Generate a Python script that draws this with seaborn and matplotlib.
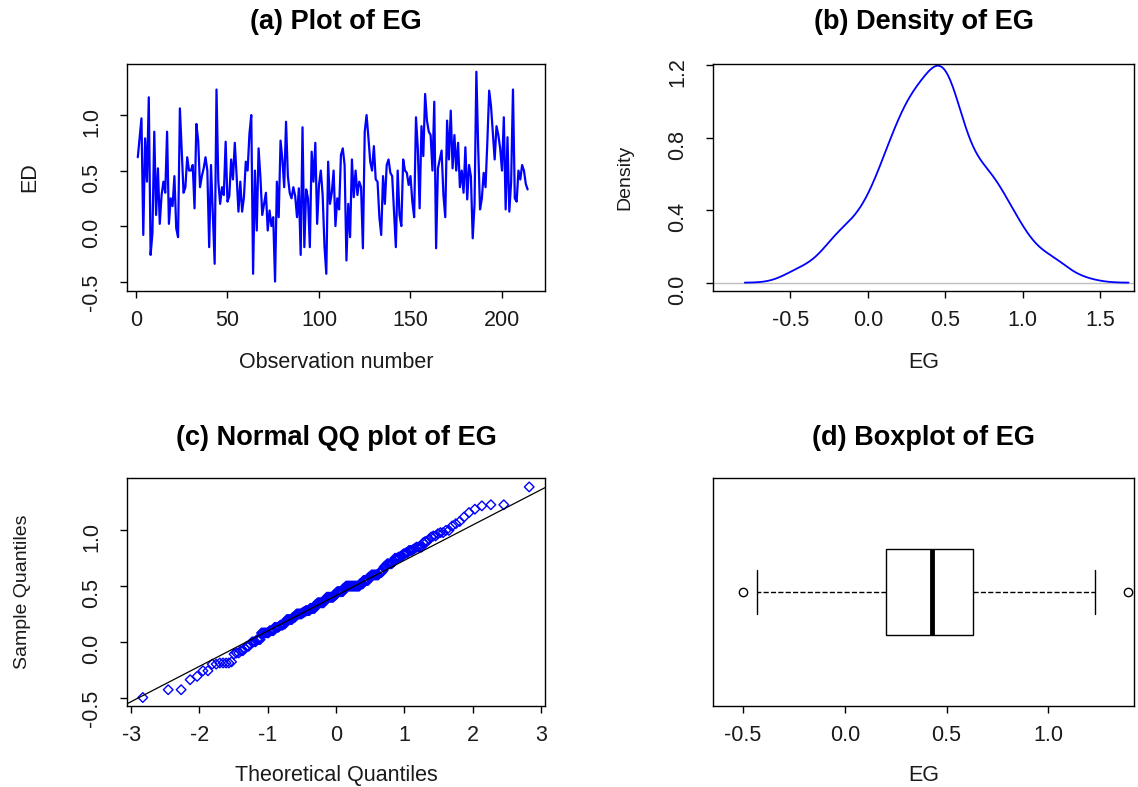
import numpy as np
import pandas as pd
import matplotlib
matplotlib.use("Agg")
import matplotlib.pyplot as plt
import seaborn as sns
from statistics import NormalDist

# ---- data ----
eg_values = [
    0.62, 0.79, 0.97, -0.08, 0.79, 0.40, 1.16, -0.26, -0.06, 0.85,
    0.10, 0.52, 0.02, 0.28, 0.40, 0.30, 0.85, 0.02, 0.25, 0.18,
    0.45, -0.02, -0.10, 1.06, 0.68, 0.30, 0.35, 0.62, 0.50, 0.50,
    0.55, 0.16, 0.92, 0.77, 0.35, 0.45, 0.52, 0.62, 0.50, -0.19,
    0.55, 0.10, -0.34, 1.23, 0.40, 0.20, 0.35, 0.28, 0.76, 0.22,
    0.27, 0.60, 0.42, 0.75, 0.45, 0.13, 0.40, 0.13, 0.26, 0.58,
    0.50, 0.83, 1.00, -0.43, 0.50, -0.04, 0.70, 0.44, 0.10, 0.20,
    0.30, -0.04, 0.14, 0.00, 0.08, -0.50, 0.40, 0.08, 0.77, 0.60,
    0.35, 0.94, 0.45, 0.30, 0.25, 0.35, 0.27, 0.08, 0.34, -0.26,
    0.89, -0.19, 0.33, 0.25, -0.19, 0.67, 0.40, 0.75, 0.02, 0.37,
    0.50, 0.28, -0.18, -0.43, 0.58, 0.20, 0.30, 0.50, 0.00, 0.25,
    0.15, 0.64, 0.70, 0.55, -0.31, 0.20, -0.10, 0.60, 0.26, 0.50,
    0.28, 0.40, 0.35, -0.20, 0.85, 1.00, 0.80, 0.58, 0.50, 0.72,
    0.42, 0.40, 0.08, -0.08, 0.45, 0.20, 0.55, 0.60, 0.48, 0.45,
    0.13, -0.19, 0.50, 0.10, 0.00, 0.60, 0.50, 0.48, 0.37, 0.45,
    0.22, 0.08, 0.98, 0.70, 0.16, 0.90, 0.63, 1.19, 0.95, 0.85,
    0.82, 0.50, 1.12, -0.20, 0.52, 0.60, 0.68, 0.28, 0.08, 0.95,
    0.60, 1.04, 0.52, 0.82, 0.50, 0.75, 0.35, 0.50, 0.30, 0.71,
    0.24, 0.55, 0.45, -0.11, 0.20, 1.39, 0.70, 0.15, 0.25, 0.48,
    0.35, 0.76, 1.22, 1.08, 0.84, 0.60, 0.90, 0.82, 0.70, 0.50,
    0.98, 0.15, 0.80, 0.13, 0.40, 1.23, 0.25, 0.22, 0.50, 0.42,
    0.55, 0.50, 0.38, 0.33,
]
obs_ticks = [0, 50, 100, 150, 200]
ed_ticks = [-0.5, 0.0, 0.5, 1.0]
dens_xticks = [-0.5, 0.0, 0.5, 1.0, 1.5]
dens_yticks = [0.0, 0.4, 0.8, 1.2]
qq_xticks = [-3, -2, -1, 0, 1, 2, 3]
qq_yticks = [-0.5, 0.0, 0.5, 1.0]
box_xticks = [-0.5, 0.0, 0.5, 1.0]
titles = ["(a) Plot of EG", "(b) Density of EG",
          "(c) Normal QQ plot of EG", "(d) Boxplot of EG"]

sns.set_theme(style="ticks")
plt.rcParams['font.family'] = ['Liberation Sans', 'DejaVu Sans']
plt.rcParams['axes.unicode_minus'] = False

eg = np.array(eg_values, dtype=float)
n = len(eg)
df = pd.DataFrame({"obs": np.arange(1, n + 1), "EG": eg})

W, H = 1138, 787
fig = plt.figure(figsize=(W / 100, H / 100), dpi=100)
fig.patch.set_facecolor("white")


def add_ax(l, t, r, b):
    return fig.add_axes([l / W, 1 - b / H, (r - l) / W, (b - t) / H])


ax_a = add_ax(127, 64, 545, 291)
ax_b = add_ax(713, 64, 1134, 291)
ax_c = add_ax(127, 478, 545, 706)
ax_d = add_ax(713, 478, 1134, 706)

TICK_FS = 15.5
LAB_FS = 15.5
TITLE_FS = 19.5


def style(ax, title, ty, xlabel, xl_y, ylabel=None, yl_x=None, ylab_fs=LAB_FS):
    for s in ax.spines.values():
        s.set_visible(True)
        s.set_color("black")
        s.set_linewidth(1.0)
    ax.set_facecolor("white")
    ax.tick_params(axis="both", direction="out", length=5, width=1.0,
                   color="black", labelsize=TICK_FS, labelcolor="#1a1a1a")
    ax.tick_params(axis="x", pad=9)
    ax.tick_params(axis="y", pad=13, labelrotation=90)
    ax.text(0.5, ty, title, transform=ax.transAxes, ha="center", va="center",
            fontsize=TITLE_FS, fontweight="bold", color="black")
    ax.set_xlabel(xlabel, fontsize=LAB_FS, color="#1a1a1a")
    ax.xaxis.set_label_coords(0.5, xl_y)
    ax.xaxis.label.set_va("center")
    if ylabel is not None:
        ax.set_ylabel(ylabel, fontsize=ylab_fs, color="#1a1a1a")
        ax.yaxis.set_label_coords(yl_x, 0.5)
        ax.yaxis.label.set_va("center")
    else:
        ax.set_ylabel("")


# (a) time plot
sns.lineplot(data=df, x="obs", y="EG", color="blue", linewidth=1.6, ax=ax_a)
ax_a.set_xlim(-4.9, 223.5)
ax_a.set_ylim(-0.585, 1.46)
ax_a.set_xticks(obs_ticks)
ax_a.set_yticks(ed_ticks)
ax_a.set_yticklabels([f"{v:.1f}" for v in ed_ticks])
style(ax_a, titles[0], 1.185, "Observation number", -0.313, "ED", -0.232)

# (b) density (R bw.nrd0 bandwidth)
sd = eg.std(ddof=1)
iqr = np.percentile(eg, 75) - np.percentile(eg, 25)
bw = 0.9 * min(sd, iqr / 1.34) * n ** (-0.2)
ax_b.axhline(0, color="#BEBEBE", linewidth=1.0)
sns.kdeplot(x=eg, bw_method=bw / sd, cut=3, gridsize=512, color="blue",
            linewidth=1.3, ax=ax_b)
ax_b.set_xlim(-1.0, 1.72)
ax_b.set_ylim(-0.046, 1.206)
ax_b.set_xticks(dens_xticks)
ax_b.set_xticklabels([f"{v:.1f}" for v in dens_xticks])
ax_b.set_yticks(dens_yticks)
ax_b.set_yticklabels([f"{v:.1f}" for v in dens_yticks])
style(ax_b, titles[1], 1.185, "EG", -0.313, "Density", -0.209, ylab_fs=14)

# (c) normal QQ plot
probs = (np.arange(1, n + 1) - 0.5) / n
theo = np.array([NormalDist().inv_cdf(p) for p in probs])
samp = np.sort(eg)
sns.scatterplot(x=theo, y=samp, marker="D", s=24, facecolor="none",
                edgecolor="blue", linewidth=1.0, ax=ax_c)
q1, q3 = np.percentile(eg, [25, 75])
z1, z3 = NormalDist().inv_cdf(0.25), NormalDist().inv_cdf(0.75)
slope = (q3 - q1) / (z3 - z1)
intercept = q1 - slope * z1
ax_c.axline((0, intercept), slope=slope, color="black", linewidth=0.9)
ax_c.set_xlim(-3.06, 3.06)
ax_c.set_ylim(-0.576, 1.47)
ax_c.set_xticks(qq_xticks)
ax_c.set_xticklabels([str(v) for v in qq_xticks])
ax_c.set_yticks(qq_yticks)
ax_c.set_yticklabels([f"{v:.1f}" for v in qq_yticks])
style(ax_c, titles[2], 1.175, "Theoretical Quantiles", -0.303,
      "Sample Quantiles", -0.251, ylab_fs=14)

# (d) boxplot
sns.boxplot(x=eg, orient="h", width=0.38, color="white", linecolor="black",
            linewidth=1.0, fliersize=6, whis=1.5,
            flierprops=dict(marker="o", markerfacecolor="none",
                            markeredgecolor="black", markeredgewidth=1.0),
            medianprops=dict(linewidth=3.5, color="black"),
            whiskerprops=dict(linestyle="--"),
            ax=ax_d)
ax_d.set_xlim(-0.647, 1.42)
ax_d.set_ylim(0.5, -0.5)
ax_d.set_yticks([])
ax_d.set_xticks(box_xticks)
ax_d.set_xticklabels([f"{v:.1f}" for v in box_xticks])
style(ax_d, titles[3], 1.175, "EG", -0.303)

fig.savefig("out.png", dpi=100, facecolor="white")
